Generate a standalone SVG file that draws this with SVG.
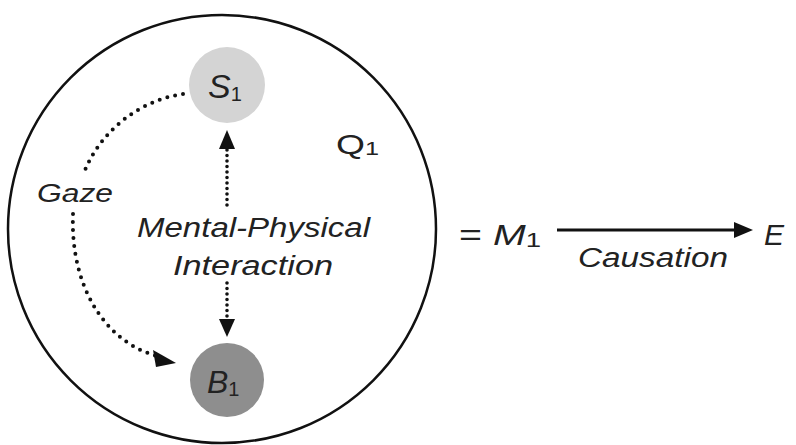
<svg xmlns="http://www.w3.org/2000/svg" width="796" height="445" viewBox="0 0 796 445">
<style>
text{font-family:"Liberation Sans","DejaVu Sans",sans-serif;fill:#222;}
.it{font-style:italic;}
.sub{font-style:normal;}
.dot{fill:none;stroke:#111;stroke-width:4;stroke-dasharray:0 8;stroke-linecap:round;}
.vdot{fill:none;stroke:#111;stroke-width:3.6;stroke-dasharray:0 5.5;stroke-linecap:round;}
</style>
<rect width="796" height="445" fill="#fff"/>
<g id="Q1">
<circle cx="222" cy="229" r="214" fill="none" stroke="#111" stroke-width="2.5"/>
<text x="336" y="154" font-size="28" textLength="43" lengthAdjust="spacingAndGlyphs">Q<tspan class="sub" font-size="19" dy="1">1</tspan></text>
</g>
<g id="connectors">
<path class="dot" d="M183,94 C140,100 102,130 85,170"/>
<path class="dot" d="M73,214 C70,290 108,343 157,356"/>
<path d="M153,350 L176,363 L156,367 Z" fill="#111"/>
<line class="vdot" x1="227" y1="150" x2="227" y2="210"/>
<path d="M219,149 L227,130 L235,149 Z" fill="#111"/>
<line class="vdot" x1="227" y1="283" x2="227" y2="318"/>
<path d="M219,319 L227,337 L235,319 Z" fill="#111"/>
<line x1="557" y1="230" x2="737" y2="230" stroke="#111" stroke-width="3"/>
<path d="M734,222 L753,230 L734,238 Z" fill="#111"/>
<text class="it" x="37" y="202" font-size="25" textLength="76" lengthAdjust="spacingAndGlyphs">Gaze</text>
<text class="it" x="137" y="237" font-size="27" textLength="233" lengthAdjust="spacingAndGlyphs">Mental-Physical</text>
<text class="it" x="173" y="275" font-size="27" textLength="160" lengthAdjust="spacingAndGlyphs">Interaction</text>
<text class="it" x="578" y="267" font-size="27" textLength="150" lengthAdjust="spacingAndGlyphs">Causation</text>
</g>
<g id="S1">
<circle cx="227" cy="85" r="38" fill="#d4d4d4"/>
<text class="it" x="208" y="98" font-size="34">S<tspan class="sub" font-size="20" dy="3">1</tspan></text>
</g>
<g id="B1">
<circle cx="227" cy="380" r="37" fill="#8e8e8e"/>
<text class="it" x="207" y="393" font-size="32">B<tspan class="sub" font-size="20" dy="3">1</tspan></text>
</g>
<g id="M1">
<text x="459" y="245" font-size="30" textLength="82" lengthAdjust="spacingAndGlyphs">= <tspan class="it">M</tspan><tspan class="sub" font-size="21" dy="2">1</tspan></text>
</g>
<g id="E">
<text class="it" x="764" y="245" font-size="30">E</text>
</g>
</svg>
